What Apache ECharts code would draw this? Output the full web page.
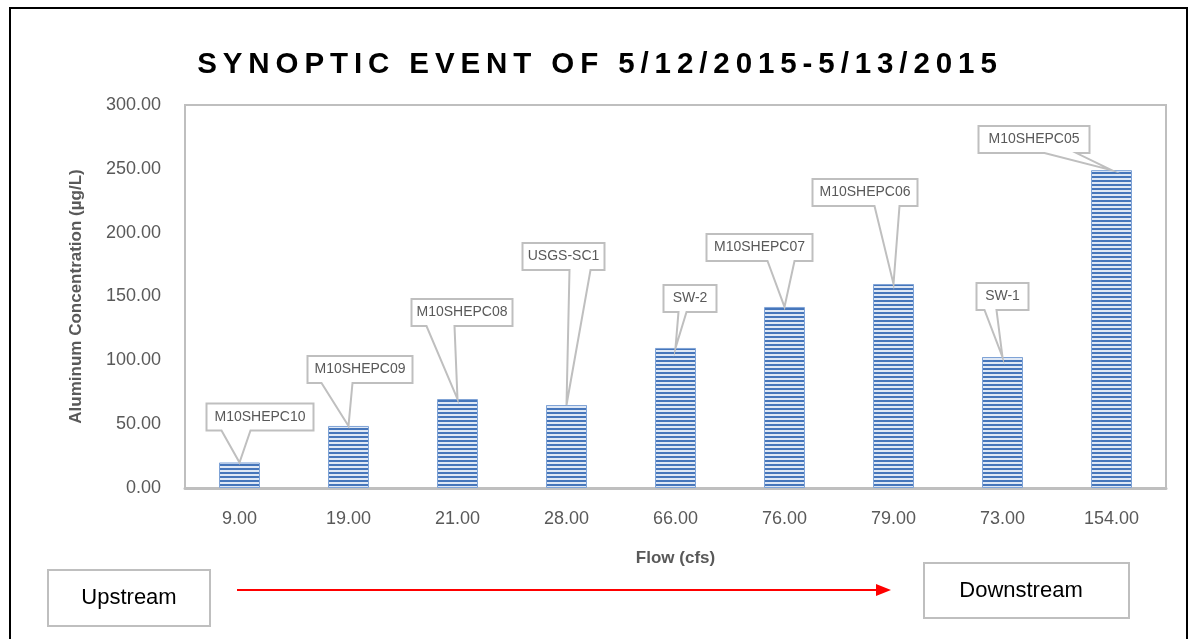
<!DOCTYPE html>
<html>
<head>
<meta charset="utf-8">
<script src="https://cdn.jsdelivr.net/npm/echarts@6/dist/echarts.min.js"></script>
<style>
  html, body { margin: 0; padding: 0; background: #fff; }
  #chart { width: 1190px; height: 639px; }
</style>
</head>
<body>
<div id="chart"></div>
<script>
// values
var flowLabels = ['9.00', '19.00', '21.00', '28.00', '66.00', '76.00', '79.00', '73.00', '154.00'];
var aluminum = [20, 48.6, 69.7, 65, 109.7, 141.8, 159.8, 102.6, 249];
var siteNames = ['M10SHEPC10', 'M10SHEPC09', 'M10SHEPC08', 'USGS-SC1', 'SW-2', 'M10SHEPC07', 'M10SHEPC06', 'SW-1', 'M10SHEPC05'];
var yMin = 0, yMax = 300, yStep = 50;

// callout box placement relative to the bar top: [dx left, dy bottom, width, wedge x1, wedge x2]
var callouts = [
  [-33, -32, 107, -18, 11],
  [-41, -43, 105, -27, 4],
  [-46, -73, 101, -31, -3],
  [-44, -135, 82, 3, 24],
  [-12, -36, 53, 3, 11],
  [-78, -46, 106, -17, 10],
  [-81, -78, 105, -19, 6],
  [-26, -47, 52, -18, -6],
  [-133, -17, 111, -67, -35]
];

var FONT = '"Liberation Sans", Arial, sans-serif';

// horizontal stripe fill like the excel pattern
function stripes() {
  var c = document.createElement('canvas');
  c.width = 8; c.height = 4;
  var g = c.getContext('2d');
  g.fillStyle = '#dfe8f5';
  g.fillRect(0, 0, 8, 4);
  g.fillStyle = '#4676bb';
  g.fillRect(0, 0, 8, 2);
  return c;
}

function spaced(s) {
  return s.split('').join('\u2009');
}

var chart = echarts.init(document.getElementById('chart'), null, { renderer: 'canvas' });

var option = {
  animation: false,
  backgroundColor: '#fff',
  title: {
    text: spaced('SYNOPTIC EVENT OF 5/12/2015-5/13/2015'),
    left: 592,
    top: 45,
    textAlign: 'center',
    textStyle: { fontFamily: FONT, fontSize: 29.5, fontWeight: 'bold', color: '#000' }
  },
  grid: {
    left: 185, right: 24, top: 105, bottom: 151,
    show: true, borderColor: '#bfbfbf', borderWidth: 2
  },
  xAxis: {
    type: 'category',
    data: flowLabels,
    name: 'Flow (cfs)',
    nameLocation: 'middle',
    nameGap: 62,
    nameTextStyle: { fontFamily: FONT, fontSize: 17, fontWeight: 'bold', color: '#595959' },
    axisLine: { lineStyle: { color: '#bfbfbf', width: 3 } },
    axisTick: { show: false },
    axisLabel: { margin: 22, fontFamily: FONT, fontSize: 18, color: '#595959' }
  },
  yAxis: {
    type: 'value',
    min: yMin, max: yMax, interval: yStep,
    name: 'Aluminum Concentration (\u00b5g/L)',
    nameLocation: 'middle',
    nameGap: 100,
    nameTextStyle: { fontFamily: FONT, fontSize: 17, fontWeight: 'bold', color: '#595959' },
    axisLine: { show: false },
    axisTick: { show: false },
    splitLine: { show: false },
    axisLabel: {
      margin: 24, fontFamily: FONT, fontSize: 18, color: '#595959',
      formatter: function (v) { return v.toFixed(2); }
    }
  },
  series: [
    {
      type: 'bar',
      data: aluminum,
      barWidth: 41,
      itemStyle: {
        color: { image: stripes(), repeat: 'repeat' },
        borderColor: '#7fa3d6',
        borderWidth: 1
      }
    },
    {
      type: 'custom',
      z: 5,
      data: aluminum.map(function (v, i) { return [i, v]; }),
      renderItem: function (params, api) {
        var pt = api.coord([api.value(0), api.value(1)]);
        var c = callouts[params.dataIndex];
        var tx = pt[0], ty = pt[1];
        var L = tx + c[0], R = L + c[2], B = ty + c[1], T = B - 27;
        return {
          type: 'group',
          children: [
            {
              type: 'polygon',
              shape: { points: [[L, T], [R, T], [R, B], [tx + c[4], B], [tx, ty], [tx + c[3], B], [L, B]] },
              style: { fill: '#fff', stroke: '#bfbfbf', lineWidth: 2 }
            },
            {
              type: 'text',
              style: {
                text: siteNames[params.dataIndex],
                x: (L + R) / 2, y: (T + B) / 2,
                align: 'center', verticalAlign: 'middle',
                fontFamily: FONT, fontSize: 14, fill: '#595959'
              }
            }
          ]
        };
      }
    }
  ],
  graphic: [
    { type: 'rect', shape: { x: 10, y: 8, width: 1177, height: 700 }, style: { fill: 'none', stroke: '#000', lineWidth: 2 } },
    { type: 'rect', shape: { x: 48, y: 570, width: 162, height: 56 }, style: { fill: '#fff', stroke: '#bfbfbf', lineWidth: 2 } },
    { type: 'text', style: { text: 'Upstream', x: 129, y: 598, align: 'center', verticalAlign: 'middle', fontFamily: FONT, fontSize: 22, fill: '#000' } },
    { type: 'rect', shape: { x: 924, y: 563, width: 205, height: 55 }, style: { fill: '#fff', stroke: '#bfbfbf', lineWidth: 2 } },
    { type: 'text', style: { text: 'Downstream', x: 1021, y: 591, align: 'center', verticalAlign: 'middle', fontFamily: FONT, fontSize: 22, fill: '#000' } },
    { type: 'line', shape: { x1: 237, y1: 590, x2: 878, y2: 590 }, style: { stroke: '#ff0000', lineWidth: 2 } },
    { type: 'polygon', shape: { points: [[876, 584], [891, 590], [876, 596]] }, style: { fill: '#ff0000' } }
  ]
};

chart.setOption(option);
</script>
</body>
</html>
